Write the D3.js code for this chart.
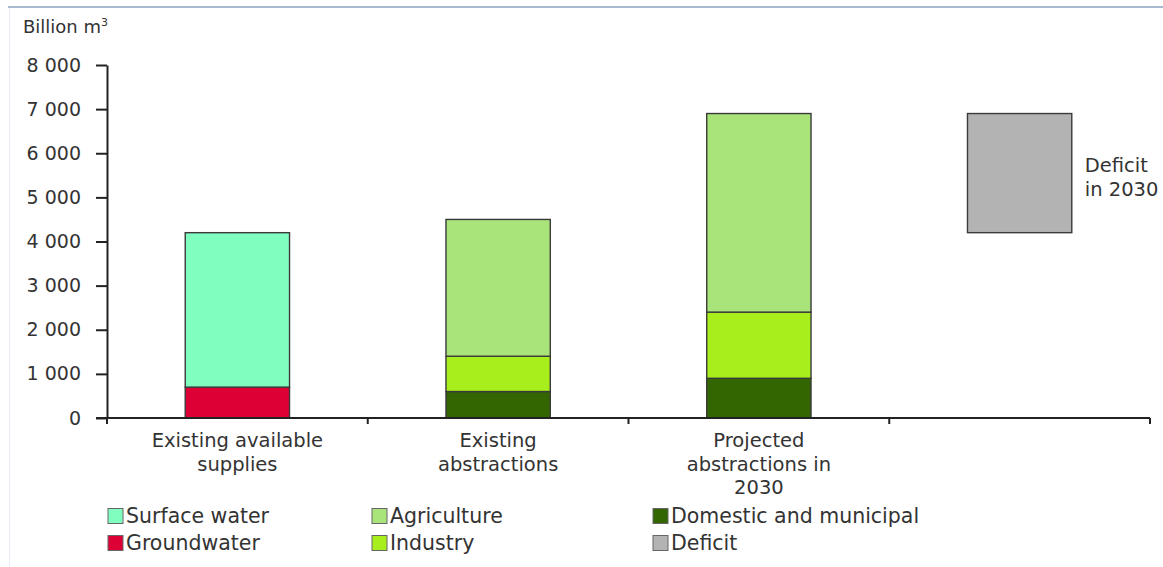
<!DOCTYPE html>
<meta charset="utf-8">
<style>
body { margin: 0; background: #fff; }
svg text { font-family: "DejaVu Sans", Verdana, sans-serif; fill: #333; }
.yaxis path.domain, .yaxis .tick line { stroke: #222; stroke-width: 2; }
.yaxis .tick text { font-size: 19px; }
</style>
<body>
<div id="chart"></div>
<script src="https://d3js.org/d3.v7.min.js"></script>
<script>
// categories along the x axis (label lines)
var categories = ["supplies", "abstractions", "projected", "deficit"];
var catLabels = [
  ["Existing available", "supplies"],
  ["Existing", "abstractions"],
  ["Projected", "abstractions in", "2030"],
  []
];

// series values, billion m3, per category
var groundwater = [700, 0, 0, 0];
var surfaceWater = [3500, 0, 0, 0];
var domestic = [0, 600, 900, 0];
var industry = [0, 800, 1500, 0];
var agriculture = [0, 3100, 4500, 0];
var deficitBase = [0, 0, 0, 4200];   // invisible offset
var deficit = [0, 0, 0, 2700];

var yTicks = [0, 1000, 2000, 3000, 4000, 5000, 6000, 7000, 8000];

var seriesNames = ["deficitBase", "groundwater", "surfaceWater", "domestic", "industry", "agriculture", "deficit"];
var seriesValues = [deficitBase, groundwater, surfaceWater, domestic, industry, agriculture, deficit];
var colors = {
  deficitBase: "none",
  groundwater: "#dc0035",
  surfaceWater: "#80fec0",
  domestic: "#336600",
  industry: "#a8ee1c",
  agriculture: "#a8e47a",
  deficit: "#b3b3b3"
};

var legendItems = [
  {name: "Surface water", key: "surfaceWater"},
  {name: "Groundwater", key: "groundwater"},
  {name: "Agriculture", key: "agriculture"},
  {name: "Industry", key: "industry"},
  {name: "Domestic and municipal", key: "domestic"},
  {name: "Deficit", key: "deficit"}
];

var W = 1163, H = 567;
var margin = {top: 65, right: 13, bottom: 149, left: 107},
    width = W - margin.left - margin.right,
    height = H - margin.top - margin.bottom;

var svg = d3.select("#chart").append("svg")
    .attr("width", W)
    .attr("height", H);

// frame lines of the original picture
svg.append("line").attr("x1", 8).attr("x2", W).attr("y1", 7).attr("y2", 7)
    .attr("stroke", "#a9b9d2").attr("stroke-width", 2);
svg.append("line").attr("x1", 9.5).attr("x2", 9.5).attr("y1", 8).attr("y2", H)
    .attr("stroke", "#e8edf5").attr("stroke-width", 1);

var g = svg.append("g")
    .attr("transform", "translate(" + margin.left + "," + margin.top + ")");

var x = d3.scaleBand()
    .domain(categories)
    .range([0, width])
    .paddingInner(0.6)
    .paddingOuter(0.3);

var y = d3.scaleLinear()
    .domain([0, 8000])
    .range([height, 0]);

// stack the series
var table = categories.map(function(c, i) {
  var row = {cat: c};
  seriesNames.forEach(function(s, j) { row[s] = seriesValues[j][i]; });
  return row;
});
var stacked = d3.stack().keys(seriesNames)(table);

g.selectAll(".layer")
  .data(stacked)
  .enter().append("g")
    .attr("class", "layer")
  .selectAll("rect")
  .data(function(d) {
    return d.filter(function(p) { return p[1] - p[0] > 0; })
            .map(function(p) { p.key = d.key; return p; });
  })
  .enter().append("rect")
    .filter(function(d) { return d.key != "deficitBase"; })
    .attr("x", function(d) { return x(d.data.cat); })
    .attr("y", function(d) { return y(d[1]); })
    .attr("width", x.bandwidth())
    .attr("height", function(d) { return y(d[0]) - y(d[1]); })
    .attr("fill", function(d) { return colors[d.key]; })
    .attr("stroke", "#3a3a3a")
    .attr("stroke-width", 1.4);

// y axis
g.append("g")
    .attr("class", "yaxis")
    .call(d3.axisLeft(y).tickValues(yTicks).tickSize(11).tickSizeOuter(0).tickPadding(15)
      .tickFormat(function(d) { return d3.format(",")(d).replace(/,/g, " "); }));

// x axis with ticks at band boundaries
var xg = g.append("g").attr("transform", "translate(0," + height + ")");
xg.append("line").attr("x1", -11).attr("x2", width).attr("stroke", "#222").attr("stroke-width", 2);
var bounds = d3.range(categories.length + 1).map(function(i) { return i * x.step(); });
xg.selectAll(".xt").data(bounds).enter().append("line")
    .attr("x1", function(d) { return d; }).attr("x2", function(d) { return d; })
    .attr("y1", 0).attr("y2", 6)
    .attr("stroke", "#222").attr("stroke-width", 2);

xg.selectAll(".xl").data(categories).enter().append("text")
    .attr("text-anchor", "middle")
    .attr("font-size", "19.5px")
    .attr("transform", function(d) { return "translate(" + (x(d) + x.bandwidth() / 2) + ",0)"; })
  .selectAll("tspan")
  .data(function(d, i) { return catLabels[i]; })
  .enter().append("tspan")
    .attr("x", 0)
    .attr("y", function(d, i) { return 29 + i * 23.5; })
    .text(function(d) { return d; });

// y axis title
svg.append("text")
    .attr("x", 23).attr("y", 33)
    .attr("font-size", "18px")
    .html("Billion m<tspan dy='-7' font-size='11px'>3</tspan>");

// deficit annotation
var dx = x("deficit") + x.bandwidth() + margin.left + 13;
svg.append("text").attr("font-size", "19.5px")
  .selectAll("tspan").data(["Deficit", "in 2030"]).enter().append("tspan")
    .attr("x", dx)
    .attr("y", function(d, i) { return y(5550) + margin.top - 1 + i * 24; })
    .text(function(d) { return d; });

// legend
var legCols = [108, 372, 653];
var legRows = [516, 543];
var leg = svg.selectAll(".leg").data(legendItems).enter().append("g")
    .attr("transform", function(d, i) {
      return "translate(" + legCols[Math.floor(i / 2)] + "," + legRows[i % 2] + ")";
    });
leg.append("rect")
    .attr("x", 0).attr("y", -7.5)
    .attr("width", 15).attr("height", 15)
    .attr("fill", function(d) { return colors[d.key]; })
    .attr("stroke", "#666").attr("stroke-width", 1);
leg.append("text")
    .attr("x", 18).attr("y", 7)
    .attr("font-size", "20.5px")
    .text(function(d) { return d.name; });
</script>
</body>
